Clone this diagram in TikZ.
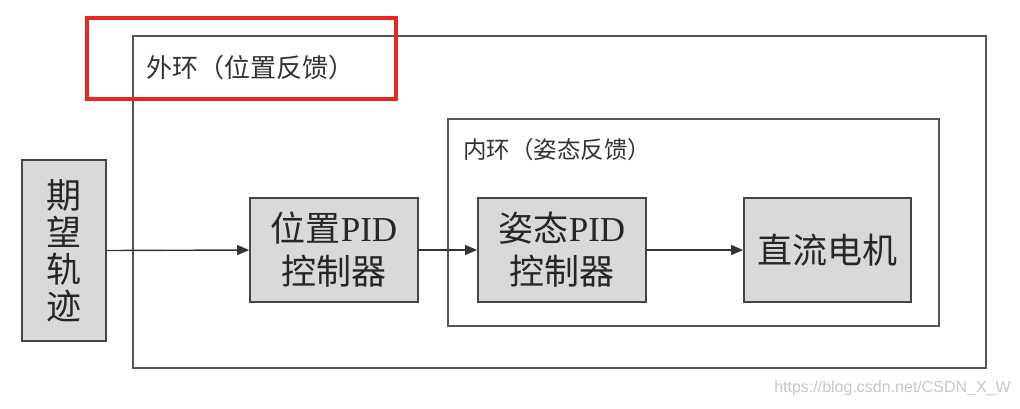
\documentclass[tikz,border=0pt]{standalone}
\usepackage{fontspec}
\setmainfont{Liberation Serif}
\newfontfamily\cjk{Noto Sans CJK SC}
\newfontfamily\latinser{Liberation Serif}
\newfontfamily\wmfont{Liberation Sans}
\usetikzlibrary{arrows.meta}
\definecolor{boxfill}{HTML}{D9D9D9}
\definecolor{edge}{HTML}{444444}
\definecolor{frame}{HTML}{555555}
\definecolor{redmark}{HTML}{E8281E}
\tikzset{
  blockbox/.style={draw=edge, line width=1.8pt, fill=boxfill, align=center, inner sep=0pt,
    font=\fontsize{35}{43}\selectfont\cjk, text=black!85},
  framebox/.style={draw=frame, line width=1.6pt},
  looplabel/.style={anchor=west, inner sep=0pt, text=black!80},
  flow/.style={draw=black!80, line width=1.4pt, -{Triangle[length=12pt,width=10pt]}}
}
\begin{document}
\begin{tikzpicture}[x=1pt,y=-1pt]
\useasboundingbox[fill=white] (0,0) rectangle (1020,408);
% outer loop frame
\draw[framebox] (133,36) rectangle (986,368);
\node[looplabel, font=\fontsize{26}{30}\selectfont\cjk] (outerlbl) at (146,68) {外环（位置反馈）};
% inner loop frame
\draw[framebox] (448,119) rectangle (939,326);
\node[looplabel, font=\fontsize{23.5}{27}\selectfont\cjk] (innerlbl) at (463,150) {内环（姿态反馈）};
% blocks
\node[blockbox, minimum width=84pt, minimum height=181pt, font=\fontsize{35}{37}\selectfont\cjk] (traj) at (64,250.5) {期\\望\\轨\\迹};
\node[blockbox, minimum width=168pt, minimum height=104pt] (pospid) at (334,250) {位置{\latinser PID}\\控制器};
\node[blockbox, minimum width=168pt, minimum height=104pt] (attpid) at (562,250) {姿态{\latinser PID}\\控制器};
\node[blockbox, minimum width=167pt, minimum height=104pt] (motor) at (827.5,250) {直流电机};
% connectors
\draw[flow] (traj.east) -- (pospid.west);
\draw[flow] (pospid.east) -- (attpid.west);
\draw[flow] (attpid.east) -- (motor.west);
% red highlight
\draw[redmark, line width=4.5pt] (87,18) rectangle (396,99);
% watermark
\node[anchor=east, font=\fontsize{16}{18}\selectfont\wmfont, text=black!22, inner sep=0pt] (wm) at (1011,388) {https://blog.csdn.net/CSDN\_X\_W};
\end{tikzpicture}
\end{document}
